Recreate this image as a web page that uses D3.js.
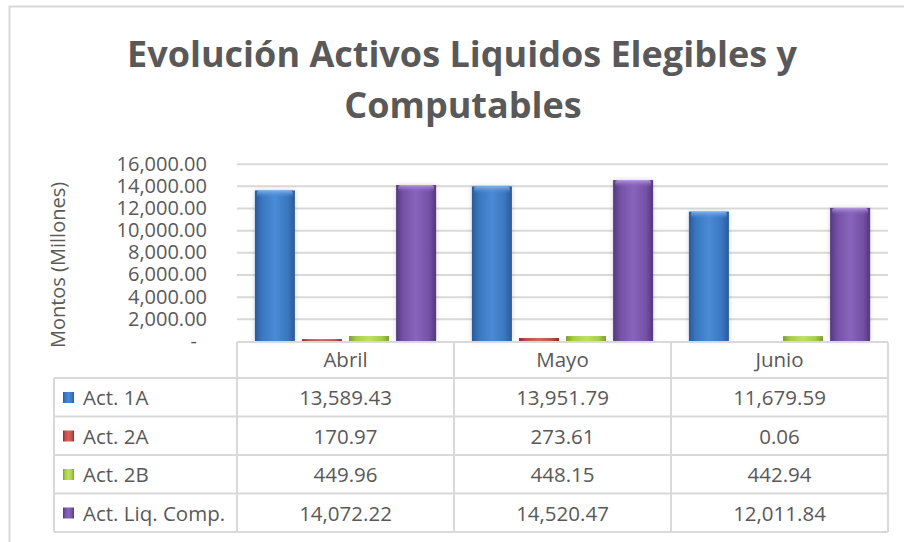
<!DOCTYPE html>
<html>
<head>
<meta charset="utf-8">
<script src="https://cdn.jsdelivr.net/npm/d3@7"></script>
<style>
  html, body { margin: 0; padding: 0; background: #fff; }
  svg text { font-family: 'Open Sans', sans-serif; }
</style>
</head>
<body>
<div id="chart"></div>
<script>
const months = ['Abril', 'Mayo', 'Junio']
const seriesNames = ['Act. 1A', 'Act. 2A', 'Act. 2B', 'Act. Liq. Comp.']
const act1A = [13589.43, 13951.79, 11679.59]
const act2A = [170.97, 273.61, 0.06]
const act2B = [449.96, 448.15, 442.94]
const actLiqComp = [14072.22, 14520.47, 12011.84]
const yTicks = [0, 2000, 4000, 6000, 8000, 10000, 12000, 14000, 16000]

const seriesValues = [act1A, act2A, act2B, actLiqComp]
// dark edge, mid, light centre, top cap
const palette = [
  ['#2a5a98', '#3a77c0', '#4a8ad6', '#7fb4ee'],
  ['#8c2b28', '#c0504d', '#d8625e', '#ee9a96'],
  ['#7d9c36', '#a5cd45', '#bfe25e', '#e0f59a'],
  ['#53387e', '#7551a6', '#8864bb', '#b599e0'],
]

const W = 904
const H = 542
const plot = {left: 237, right: 888, top: 163.7, bottom: 341}
const table = {legendLeft: 54, headerTop: 342, rowTop: 378, rowH: 38.5}
const textColor = '#595959'
const lineColor = '#d9d9d9'

const svg = d3.select('#chart').append('svg')
  .attr('width', W)
  .attr('height', H)

const defs = svg.append('defs')
palette.forEach((c, i) => {
  const g = defs.append('linearGradient').attr('id', 'grad' + i)
    .attr('x1', '0%').attr('x2', '100%').attr('y1', '0%').attr('y2', '0%')
  g.append('stop').attr('offset', '0%').attr('stop-color', c[0])
  g.append('stop').attr('offset', '18%').attr('stop-color', c[1])
  g.append('stop').attr('offset', '50%').attr('stop-color', c[2])
  g.append('stop').attr('offset', '82%').attr('stop-color', c[1])
  g.append('stop').attr('offset', '100%').attr('stop-color', c[0])
  const cap = defs.append('linearGradient').attr('id', 'cap' + i)
    .attr('x1', '0%').attr('x2', '0%').attr('y1', '0%').attr('y2', '100%')
  cap.append('stop').attr('offset', '0%').attr('stop-color', c[3])
  cap.append('stop').attr('offset', '100%').attr('stop-color', c[2]).attr('stop-opacity', 0)
})
const shadow = defs.append('filter').attr('id', 'glow')
  .attr('x', '-30%').attr('y', '-10%').attr('width', '160%').attr('height', '120%')
shadow.append('feGaussianBlur').attr('in', 'SourceAlpha').attr('stdDeviation', 2.5)
shadow.append('feComponentTransfer').append('feFuncA').attr('type', 'linear').attr('slope', 0.18)
const merge = shadow.append('feMerge')
merge.append('feMergeNode')
merge.append('feMergeNode').attr('in', 'SourceGraphic')

// outer frame
svg.append('rect')
  .attr('x', 9.5).attr('y', 6.5)
  .attr('width', W).attr('height', H)
  .attr('fill', 'none').attr('stroke', lineColor).attr('stroke-width', 2)

// title
const title = svg.append('text')
  .attr('text-anchor', 'middle')
  .attr('font-size', 36)
  .attr('font-weight', 'bold')
  .attr('fill', textColor)
title.append('tspan').attr('x', 462).attr('y', 67).text('Evolución Activos Liquidos Elegibles y')
title.append('tspan').attr('x', 463).attr('y', 118).text('Computables')

const x = d3.scaleBand().domain(months).range([plot.left, plot.right])
const xInner = d3.scaleBand().domain(d3.range(seriesNames.length))
  .range([0, x.bandwidth()])
  .paddingInner(0.15)
  .paddingOuter(0.38)
const y = d3.scaleLinear().domain([0, 16000]).range([plot.bottom, plot.top])

// gridlines
svg.append('g')
  .attr('transform', `translate(${plot.left}, 0)`)
  .call(d3.axisLeft(y).tickValues(yTicks.slice(1)).tickSize(-(plot.right - plot.left)).tickFormat(''))
  .call(g => g.select('.domain').remove())
  .call(g => g.selectAll('line').attr('stroke', lineColor).attr('stroke-width', 2))

// y axis labels
const fmt = d3.format(',.2f')
svg.append('g')
  .attr('transform', `translate(${plot.left}, 0)`)
  .call(d3.axisLeft(y).tickValues(yTicks).tickSize(0).tickPadding(30)
    .tickFormat(v => v === 0 ? '-' : fmt(v)))
  .call(g => g.select('.domain').remove())
  .call(g => g.selectAll('text')
    .attr('font-family', "'Open Sans', sans-serif")
    .attr('font-size', 20)
    .attr('fill', textColor)
    .attr('dx', v => v === 0 ? -10 : 0))

svg.append('text')
  .attr('transform', 'translate(65, 265) rotate(-90)')
  .attr('text-anchor', 'middle')
  .attr('font-size', 20)
  .attr('fill', textColor)
  .text('Montos (Millones)')

// bars
const barData = []
seriesValues.forEach((vals, s) => {
  vals.forEach((v, m) => barData.push({s, month: months[m], value: v}))
})
const bars = svg.append('g').selectAll('g.bar')
  .data(barData)
  .join('g')
  .attr('class', 'bar')
  .attr('transform', d => `translate(${x(d.month) + xInner(d.s)}, 0)`)
bars.append('rect')
  .attr('y', d => y(d.value))
  .attr('width', xInner.bandwidth())
  .attr('height', d => y(0) - y(d.value))
  .attr('fill', d => `url(#grad${d.s})`)
  .attr('filter', d => y(0) - y(d.value) > 10 ? 'url(#glow)' : null)
bars.filter(d => y(0) - y(d.value) > 10)
  .append('rect')
  .attr('x', 2)
  .attr('y', d => y(d.value))
  .attr('width', xInner.bandwidth() - 4)
  .attr('height', 7)
  .attr('rx', 3)
  .attr('fill', d => `url(#cap${d.s})`)

// data table
const tableBottom = table.rowTop + table.rowH * seriesNames.length
const tbl = svg.append('g')
  .attr('fill', 'none')
  .attr('stroke', lineColor)
  .attr('stroke-width', 2)
tbl.append('line')
  .attr('x1', plot.left).attr('x2', plot.right)
  .attr('y1', table.headerTop).attr('y2', table.headerTop)
d3.range(seriesNames.length + 1).forEach(i => {
  tbl.append('line')
    .attr('x1', table.legendLeft).attr('x2', plot.right)
    .attr('y1', table.rowTop + i * table.rowH).attr('y2', table.rowTop + i * table.rowH)
})
tbl.append('line')
  .attr('x1', table.legendLeft).attr('x2', table.legendLeft)
  .attr('y1', table.rowTop).attr('y2', tableBottom)
months.concat([null]).forEach(m => {
  const xp = m === null ? plot.right : x(m)
  tbl.append('line')
    .attr('x1', xp).attr('x2', xp)
    .attr('y1', table.headerTop).attr('y2', tableBottom)
})

svg.append('g').selectAll('text')
  .data(months)
  .join('text')
  .attr('x', d => x(d) + x.bandwidth() / 2)
  .attr('y', table.headerTop + 25)
  .attr('text-anchor', 'middle')
  .attr('font-size', 20.5)
  .attr('fill', textColor)
  .text(d => d)

const rows = svg.append('g').selectAll('g.row')
  .data(seriesNames)
  .join('g')
  .attr('class', 'row')
  .attr('transform', (d, i) => `translate(0, ${table.rowTop + i * table.rowH})`)
rows.append('rect')
  .attr('x', 63).attr('y', 14)
  .attr('width', 11).attr('height', 11)
  .attr('fill', (d, i) => `url(#grad${i})`)
rows.append('text')
  .attr('x', 83)
  .attr('y', 27)
  .attr('font-size', 20.5)
  .attr('fill', textColor)
  .text(d => d)
rows.each(function (name, i) {
  d3.select(this).selectAll('text.val')
    .data(seriesValues[i])
    .join('text')
    .attr('class', 'val')
    .attr('x', (v, m) => x(months[m]) + x.bandwidth() / 2)
    .attr('y', 27)
    .attr('text-anchor', 'middle')
    .attr('font-size', 20.5)
    .attr('fill', textColor)
    .text(v => fmt(v))
})
</script>
</body>
</html>
